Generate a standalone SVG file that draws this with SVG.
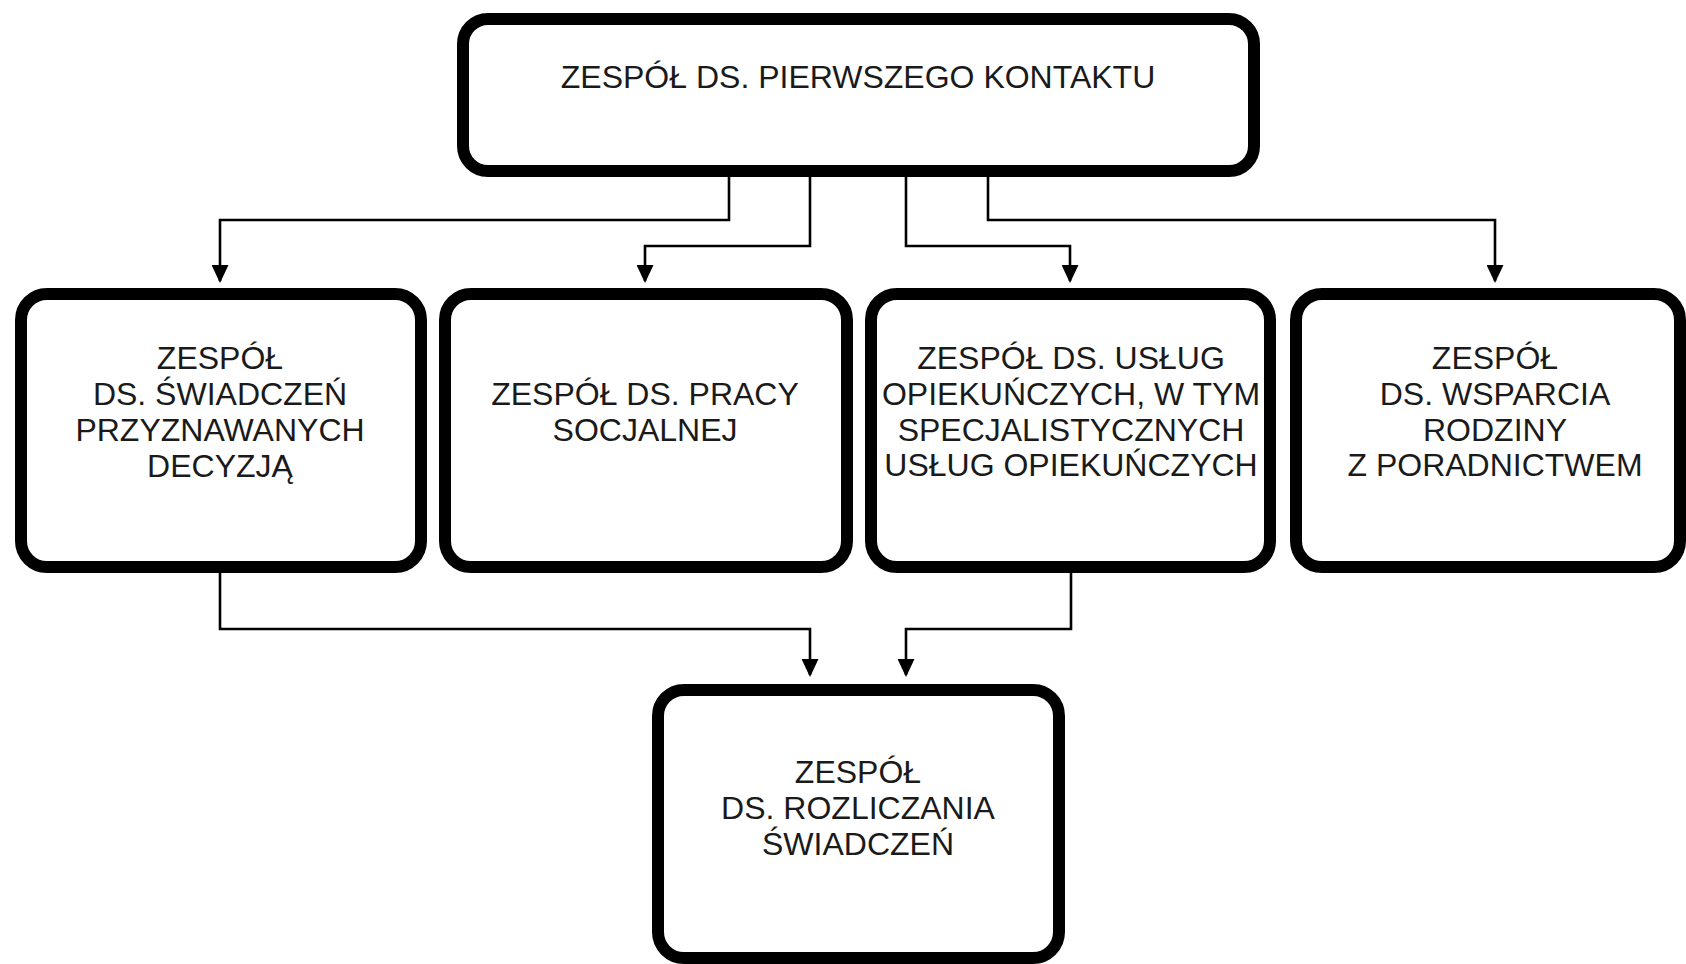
<svg xmlns="http://www.w3.org/2000/svg" width="1686" height="964" viewBox="0 0 1686 964">
  <style>
    .box { fill: #ffffff; stroke: #000000; stroke-width: 12; }
    .lbl { font-family: "Liberation Sans", Arial, sans-serif; font-size: 32px; fill: #1a1a1a; text-anchor: middle; }
    .conn { fill: none; stroke: #000000; stroke-width: 2.6; }
  </style>
  <defs>
    <marker id="arrow" viewBox="0 0 18 17" refX="16" refY="8.5" markerWidth="18" markerHeight="17" markerUnits="userSpaceOnUse" orient="auto">
      <path d="M0,0 L18,8.5 L0,17 z" fill="#000000"/>
    </marker>
  </defs>
  <rect width="1686" height="964" fill="#ffffff"/>

  <g id="connectors">
    <path class="conn" d="M729 171 V220 H220 V281" marker-end="url(#arrow)"/>
    <path class="conn" d="M810 171 V246 H645 V281" marker-end="url(#arrow)"/>
    <path class="conn" d="M906 171 V246 H1070 V281" marker-end="url(#arrow)"/>
    <path class="conn" d="M988 171 V220 H1495 V281" marker-end="url(#arrow)"/>
    <path class="conn" d="M220 567 V629 H810 V675" marker-end="url(#arrow)"/>
    <path class="conn" d="M1071 567 V629 H906 V675" marker-end="url(#arrow)"/>
  </g>

  <g id="node-kontakt">
    <rect class="box" x="463" y="19" width="791" height="152" rx="25"/>
    <text class="lbl" x="858" y="88">ZESPÓŁ DS. PIERWSZEGO KONTAKTU</text>
  </g>

  <g id="node-swiadczenia">
    <rect class="box" x="21" y="294" width="400" height="273" rx="26"/>
    <text class="lbl" x="220" y="369">ZESPÓŁ</text>
    <text class="lbl" x="220" y="405">DS. ŚWIADCZEŃ</text>
    <text class="lbl" x="220" y="441">PRZYZNAWANYCH</text>
    <text class="lbl" x="220" y="477">DECYZJĄ</text>
  </g>

  <g id="node-praca">
    <rect class="box" x="445" y="294" width="402" height="273" rx="26"/>
    <text class="lbl" x="645" y="405">ZESPÓŁ DS. PRACY</text>
    <text class="lbl" x="645" y="441">SOCJALNEJ</text>
  </g>

  <g id="node-uslugi">
    <rect class="box" x="871" y="294" width="399" height="273" rx="26"/>
    <text class="lbl" x="1071" y="369">ZESPÓŁ DS. USŁUG</text>
    <text class="lbl" x="1071" y="405">OPIEKUŃCZYCH, W TYM</text>
    <text class="lbl" x="1071" y="441">SPECJALISTYCZNYCH</text>
    <text class="lbl" x="1071" y="476">USŁUG OPIEKUŃCZYCH</text>
  </g>

  <g id="node-rodzina">
    <rect class="box" x="1296" y="294" width="384" height="273" rx="26"/>
    <text class="lbl" x="1495" y="369">ZESPÓŁ</text>
    <text class="lbl" x="1495" y="405">DS. WSPARCIA</text>
    <text class="lbl" x="1495" y="441">RODZINY</text>
    <text class="lbl" x="1495" y="476">Z PORADNICTWEM</text>
  </g>

  <g id="node-rozliczanie">
    <rect class="box" x="658" y="690" width="401" height="268" rx="26"/>
    <text class="lbl" x="858" y="783">ZESPÓŁ</text>
    <text class="lbl" x="858" y="819">DS. ROZLICZANIA</text>
    <text class="lbl" x="858" y="855">ŚWIADCZEŃ</text>
  </g>
</svg>
